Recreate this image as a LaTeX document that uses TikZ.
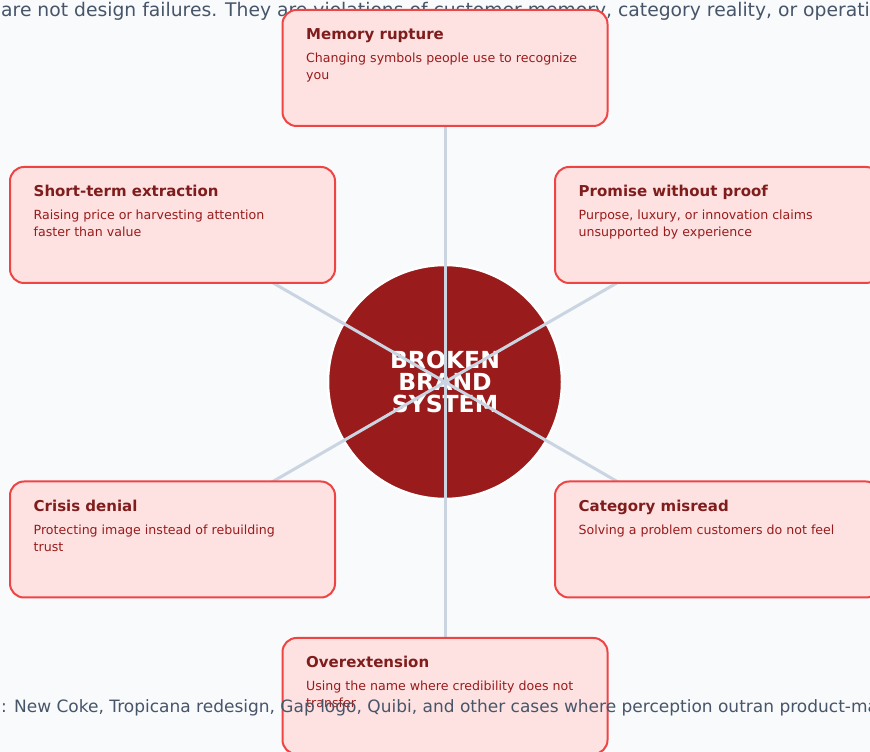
\documentclass[tikz,border=0pt]{standalone}
\usepackage{fontspec}
\setmainfont{DejaVu Sans}
\usetikzlibrary{positioning}
\definecolor{pagebg}{HTML}{F8FAFC}
\definecolor{hubred}{HTML}{991B1B}
\definecolor{boxfill}{HTML}{FEE2E2}
\definecolor{boxline}{HTML}{EF4444}
\definecolor{titlered}{HTML}{7F1D1D}
\definecolor{spokegray}{HTML}{CBD5E1}
\definecolor{notegray}{HTML}{475569}
\pgfdeclarelayer{background}
\pgfsetlayers{background,main}
\newcommand{\boxtitle}[1]{{\fontsize{15}{17}\selectfont\bfseries\color{titlered}#1}}

\begin{document}
\begin{tikzpicture}[x=1pt,y=1pt,
  box/.style={draw=boxline,fill=boxfill,line width=2pt,rounded corners=14pt,minimum width=325pt,minimum height=116pt},
  boxtext/.style={anchor=north west,inner sep=0pt,align=left,text=hubred,font=\fontsize{12.6}{17}\selectfont},
  hub/.style={circle,fill=hubred,draw=white,line width=2.5pt,minimum size=234pt,inner sep=0pt,text=white,align=center,font=\fontsize{23.5}{22.3}\selectfont\bfseries},
  spoke/.style={draw=spokegray,line width=3pt},
  note/.style={anchor=base west,inner sep=0pt,text=notegray}]
\useasboundingbox (0,0) rectangle (870,752);
\node[box] (memory) at (445,684) {};
\node[box] (shortterm) at (172.5,527) {};
\node[box] (promise) at (717.5,527) {};
\node[box] (crisis) at (172.5,212.5) {};
\node[box] (category) at (717.5,212.5) {};
\node[box] (overext) at (445,56) {};
\node[boxtext] (memory-txt) at ([xshift=24.5pt,yshift=-19pt]memory.north west) {\boxtitle{Memory rupture}\\[6pt]Changing symbols people use to recognize\\you};
\node[boxtext] (shortterm-txt) at ([xshift=24.5pt,yshift=-19pt]shortterm.north west) {\boxtitle{Short-term extraction}\\[6pt]Raising price or harvesting attention\\faster than value};
\node[boxtext] (promise-txt) at ([xshift=24.5pt,yshift=-19pt]promise.north west) {\boxtitle{Promise without proof}\\[6pt]Purpose, luxury, or innovation claims\\unsupported by experience};
\node[boxtext] (crisis-txt) at ([xshift=24.5pt,yshift=-19pt]crisis.north west) {\boxtitle{Crisis denial}\\[6pt]Protecting image instead of rebuilding\\trust};
\node[boxtext] (category-txt) at ([xshift=24.5pt,yshift=-19pt]category.north west) {\boxtitle{Category misread}\\[6pt]Solving a problem customers do not feel};
\node[boxtext] (overext-txt) at ([xshift=24.5pt,yshift=-19pt]overext.north west) {\boxtitle{Overextension}\\[6pt]Using the name where credibility does not\\transfer};
\node[note,font=\fontsize{17}{20}\selectfont] (examples) at (1,39) {: New Coke, Tropicana redesign, Gap logo, Quibi, and other cases where perception outran product-ma};
% page, hub and spokes sit under the boxes
\begin{pgfonlayer}{background}
\fill[pagebg] (0,0) rectangle (870,752);
\node[note,font=\fontsize{18.75}{22}\selectfont] (thesis) at (1,735) {are not design failures. They are violations of customer memory, category reality, or operati};
\node[hub] (hub) at (445,370) {BROKEN\\BRAND\\SYSTEM};
\draw[spoke] (hub.center) -- (memory.center);
\draw[spoke] (hub.center) -- (shortterm.center);
\draw[spoke] (hub.center) -- (promise.center);
\draw[spoke] (hub.center) -- (crisis.center);
\draw[spoke] (hub.center) -- (category.center);
\draw[spoke] (hub.center) -- (overext.center);
\end{pgfonlayer}
\end{tikzpicture}
\end{document}
